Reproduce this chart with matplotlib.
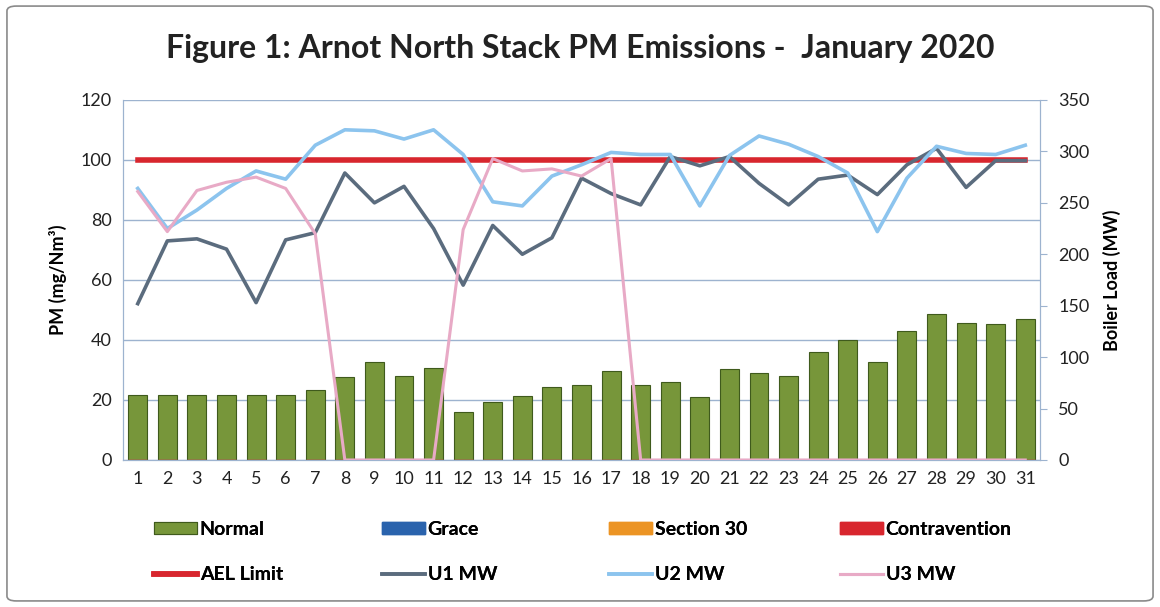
import matplotlib.pyplot as plt
import numpy as np
from matplotlib.patches import FancyBboxPatch

plt.rcParams["font.family"] = ["Lato", "DejaVu Sans"]

days = list(range(1, 32))

# PM emissions (mg/Nm3) per category
pm_normal = [21.5, 21.5, 21.5, 21.5, 21.5, 21.5, 23.3, 27.6, 32.6, 28.1, 30.8,
             15.9, 19.2, 21.3, 24.3, 25.0, 29.8, 25.0, 26.1, 20.9, 30.2, 29.1,
             28.1, 36.1, 40.0, 32.8, 43.0, 48.7, 45.8, 45.2, 47.1]
pm_grace = [0] * 31
pm_section30 = [0] * 31
pm_contravention = [0] * 31
ael_limit = [100] * 31

# Boiler load (MW)
u1_mw = [152, 213, 215, 205, 153, 214, 221, 279, 250, 266, 225,
         170, 228, 200, 216, 274, 259, 248, 295, 286, 295, 269,
         248, 273, 277, 258, 287, 303, 265, 291, 291]
u2_mw = [264, 225, 243, 264, 281, 273, 306, 321, 320, 312, 321,
         297, 251, 247, 276, 287, 299, 297, 297, 247, 296, 315,
         307, 295, 279, 222, 274, 305, 298, 297, 306]
u3_mw = [261, 222, 262, 270, 275, 264, 220, 0, 0, 0, 0,
         224, 293, 281, 283, 276, 293, 0, 0, 0, 0, 0,
         0, 0, 0, 0, 0, 0, 0, 0, 0]

GREEN = "#77963a"
BLUE = "#2a63ad"
ORANGE = "#ec9424"
RED = "#d8262e"
GRID = "#9db3cf"

fig = plt.figure(figsize=(11.6, 6.07), dpi=100)
fig.patches.append(FancyBboxPatch((0.006, 0.01), 0.988, 0.98, boxstyle="round,pad=0,rounding_size=0.008",
                                  transform=fig.transFigure, fill=False, edgecolor="#8a8a8a", lw=1.2))

ax = fig.add_axes([0.106, 0.2422, 0.7906, 0.5931])
ax2 = ax.twinx()
ax.set_zorder(ax2.get_zorder() + 1)
ax.patch.set_visible(False)

x = np.array(days)
w = 0.64
b1 = ax.bar(x, pm_normal, w, color=GREEN, edgecolor="#3f5a1c", lw=0.8, label="Normal", zorder=2)
b2 = ax.bar(x, pm_grace, w, color=BLUE, edgecolor=BLUE, label="Grace", zorder=2)
b3 = ax.bar(x, pm_section30, w, color=ORANGE, edgecolor=ORANGE, label="Section 30", zorder=2)
b4 = ax.bar(x, pm_contravention, w, color=RED, edgecolor=RED, label="Contravention", zorder=2)
l0, = ax.plot(x, ael_limit, color=RED, lw=4, label="AEL Limit", zorder=3)

l1, = ax2.plot(x, u1_mw, color="#5b6c7e", lw=2.6, label="U1 MW")
l2, = ax2.plot(x, u2_mw, color="#8cc4ee", lw=2.6, label="U2 MW")
l3, = ax2.plot(x, u3_mw, color="#e8aac6", lw=2.2, label="U3 MW")
# draw the load lines over the bars, still scaled by the right axis
for ln in (l1, l2, l3):
    ln.remove()
    ax.add_line(ln)
    ln.set_transform(ax2.transData)
    ln.set_zorder(4)

ax.set_xlim(0.5, 31.5)
ax.set_ylim(0, 120)
ax.set_yticks(range(0, 121, 20))
ax2.set_ylim(0, 350)
ax2.set_yticks(range(0, 351, 50))
ax.set_xticks(days)
ax.grid(axis="y", color=GRID, lw=1, zorder=0)
ax.set_axisbelow(True)

for a in (ax, ax2):
    for s in a.spines.values():
        s.set_color(GRID)
    a.spines["top"].set_visible(False)
ax.tick_params(axis="both", labelsize=13, colors="#222222", length=0, pad=8)
ax2.tick_params(axis="y", labelsize=13, colors="#222222", pad=8, length=5)
ax2.tick_params(axis="y", color=GRID)

ax.set_ylabel("PM (mg/Nm³)", fontsize=13, fontweight="bold", labelpad=10)
ax2.set_ylabel("Boiler Load (MW)", fontsize=13, fontweight="bold", labelpad=10)

fig.text(0.5, 0.92, "Figure 1: Arnot North Stack PM Emissions -  January 2020",
         ha="center", va="center", fontsize=23, fontweight="bold", color="#222222")

# Excel-style legend: four evenly spaced columns, two rows
columns = [(b1, l0), (b2, l1), (b3, l2), (b4, l3)]
col_left_px = [154, 382, 609, 840]
for (top, bottom), left in zip(columns, col_left_px):
    leg = fig.legend(handles=[top, bottom], loc="center left",
                     bbox_to_anchor=(left / 1160, 0.0906), frameon=False,
                     prop={"weight": "bold", "size": 14}, handlelength=2.2, handleheight=0.6,
                     handletextpad=0.15, labelspacing=1.45, borderpad=0, borderaxespad=0)
    fig.add_artist(leg)

fig.savefig("out.png", dpi=100)
